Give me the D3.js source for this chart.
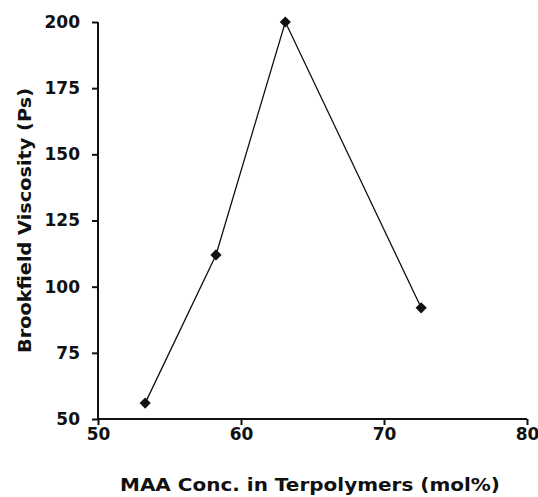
<!DOCTYPE html>
<html>
<head>
<meta charset="utf-8">
<script src="https://cdn.jsdelivr.net/npm/d3@7"></script>
<style>
html,body{margin:0;padding:0;background:#fff;}
svg text{font-family:"DejaVu Sans",Arial,sans-serif;font-weight:bold;fill:#111;}
</style>
</head>
<body>
<svg id="chart" width="538" height="497"></svg>
<script>
const maaConc = [53.3, 58.25, 63.1, 72.6];
const viscosity = [56, 112, 200, 92];
const xTicks = [50, 60, 70, 80];
const yTicks = [50, 75, 100, 125, 150, 175, 200];
const xTitle = "MAA  Conc. in Terpolymers (mol%)";
const yTitle = "Brookfield Viscosity (Ps)";

const svg = d3.select("#chart");
const x = d3.scaleLinear().domain([50, 80]).range([98, 527]);
const y = d3.scaleLinear().domain([50, 200]).range([419, 22]);

const xAxis = svg.append("g").attr("transform", "translate(0,419)")
  .call(d3.axisBottom(x).tickValues(xTicks).tickSize(6).tickPadding(3).tickFormat(d3.format("d")));
const yAxis = svg.append("g").attr("transform", "translate(98,0)")
  .call(d3.axisLeft(y).tickValues(yTicks).tickSize(6).tickPadding(12).tickFormat(d3.format("d")));
[xAxis, yAxis].forEach(a => {
  a.selectAll(".tick line").attr("stroke", "#111").attr("stroke-width", 2);
  a.selectAll(".tick text").style("font-size", "17px").style("font-family", "'DejaVu Sans',Arial,sans-serif").style("font-weight", "bold").attr("fill", "#111");
});
xAxis.select("path.domain").attr("stroke", "#111").attr("stroke-width", 2).attr("d", "M98,0H527");
yAxis.select("path.domain").attr("stroke", "#111").attr("stroke-width", 2).attr("d", "M0,22V419");

const pts = maaConc.map((v, i) => [v, viscosity[i]]);
svg.append("path").datum(pts)
  .attr("fill", "none").attr("stroke", "#111").attr("stroke-width", 1.3)
  .attr("d", d3.line().x(d => x(d[0])).y(d => y(d[1])));

svg.selectAll("path.pt").data(pts).enter().append("path")
  .attr("class", "pt")
  .attr("transform", d => `translate(${x(d[0])},${y(d[1])})`)
  .attr("d", d3.symbol().type(d3.symbolDiamond2).size(80))
  .attr("fill", "#111");

svg.append("text").attr("x", 120).attr("y", 491)
  .attr("textLength", 380).attr("lengthAdjust", "spacingAndGlyphs")
  .style("font-size", "17px").text(xTitle);
svg.append("text").attr("transform", "translate(31,353) rotate(-90)")
  .attr("textLength", 265).attr("lengthAdjust", "spacingAndGlyphs")
  .style("font-size", "17px").text(yTitle);
</script>
</body>
</html>
